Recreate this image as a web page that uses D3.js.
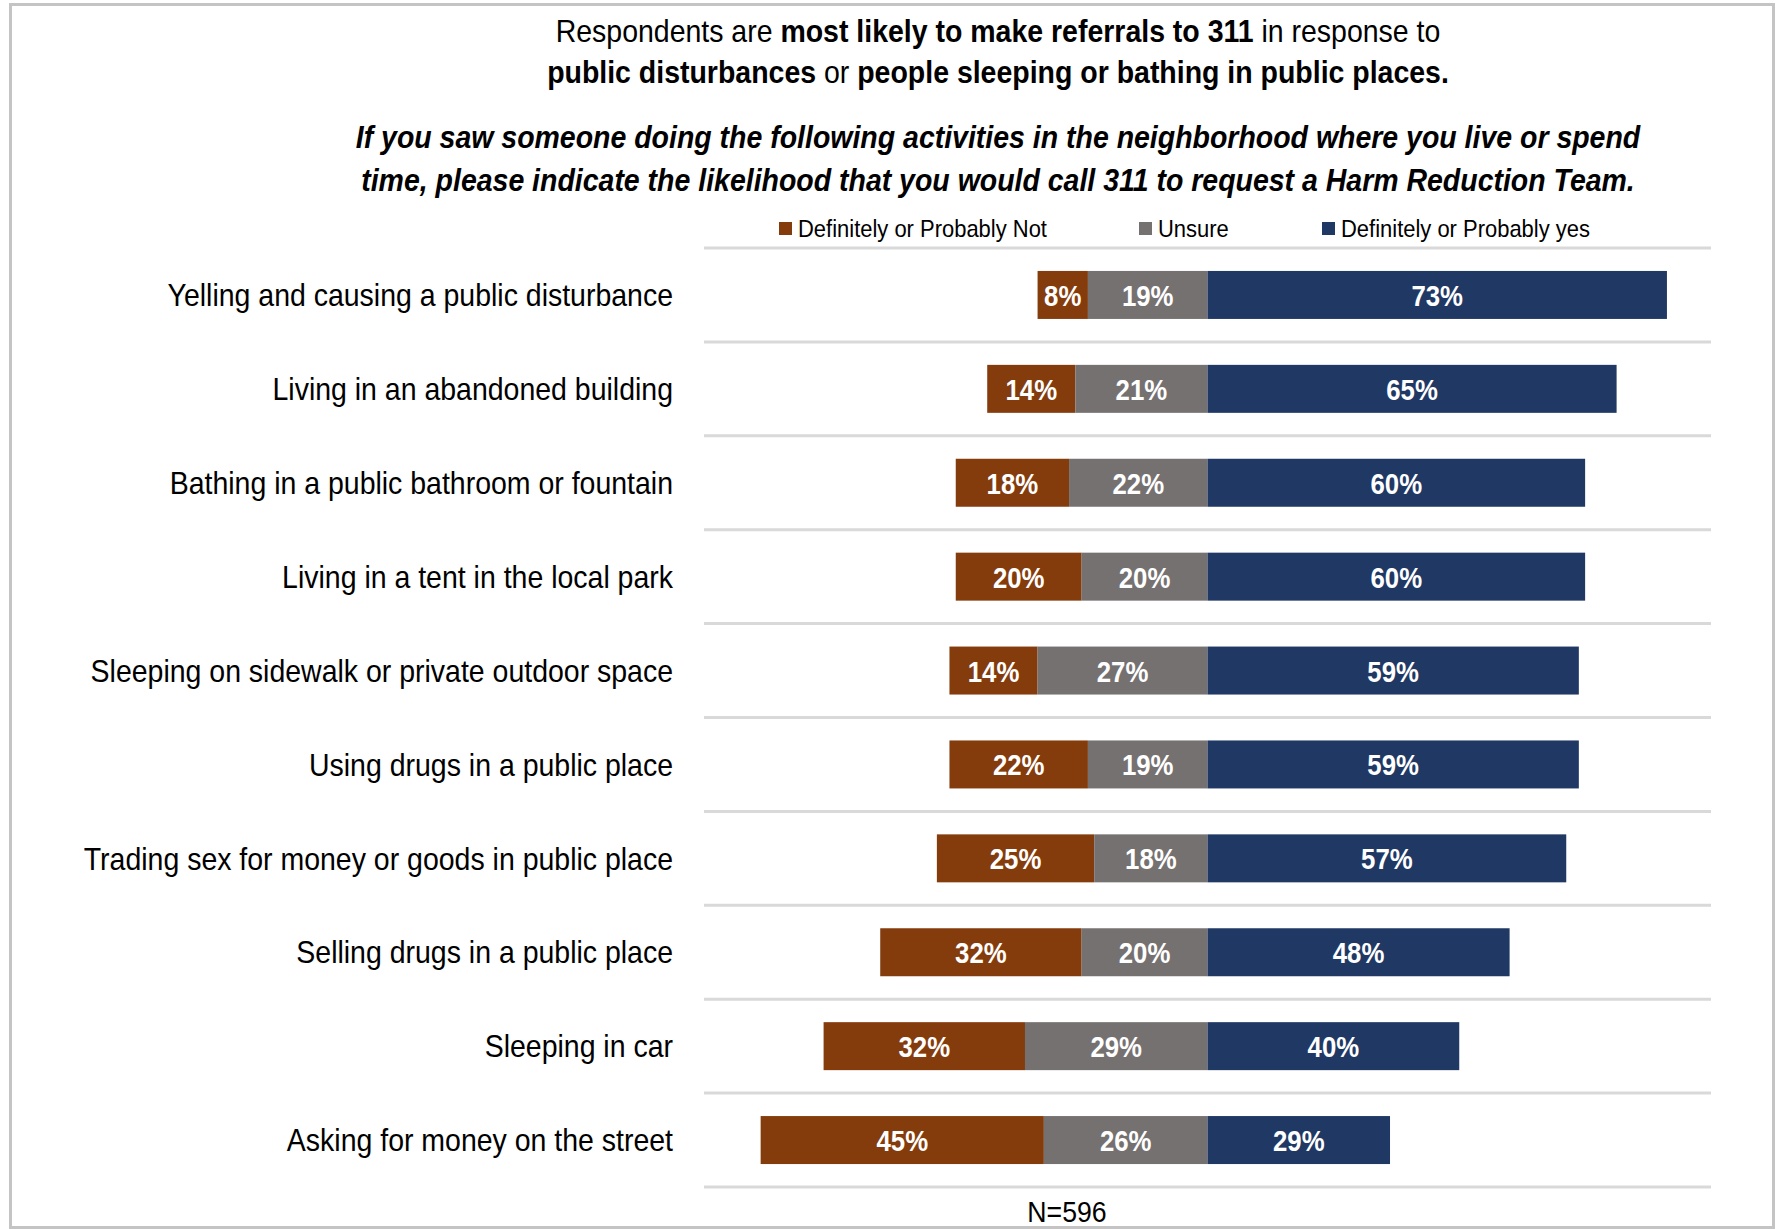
<!DOCTYPE html>
<html>
<head>
<meta charset="utf-8">
<script src="https://cdn.jsdelivr.net/npm/d3@7"></script>
<style>
  html, body { margin: 0; padding: 0; background: #fff; }
  svg { display: block; }
  text { font-family: "Liberation Sans", Arial, sans-serif; }
</style>
</head>
<body>
<svg id="chart" width="1776" height="1229"></svg>
<script>
// Survey activities (top to bottom)
const categories = [
  "Yelling and causing a public disturbance",
  "Living in an abandoned building",
  "Bathing in a public bathroom or fountain",
  "Living in a tent in the local park",
  "Sleeping on sidewalk or private outdoor space",
  "Using drugs in a public place",
  "Trading sex for money or goods in public place",
  "Selling drugs in a public place",
  "Sleeping in car",
  "Asking for money on the street"
];
// Percent of respondents per answer
const notValues    = [8, 14, 18, 20, 14, 22, 25, 32, 32, 45];
const unsureValues = [19, 21, 22, 20, 27, 19, 18, 20, 29, 26];
const yesValues    = [73, 65, 60, 60, 59, 59, 57, 48, 40, 29];

const seriesNames = ["Definitely or Probably Not", "Unsure", "Definitely or Probably yes"];
const seriesColors = ["#843C0C", "#767171", "#203864"];

// Narrow type: regular sans squeezed horizontally
const NARROW = 0.89;
const at = (x, y, k = NARROW) => `translate(${x},${y}) scale(${k},1)`;

const svg = d3.select("#chart");

// Outer frame
svg.append("rect")
  .attr("x", 10.5).attr("y", 4.5)
  .attr("width", 1763).attr("height", 1223)
  .attr("fill", "none").attr("stroke", "#c4c4c4").attr("stroke-width", 3);

// Headline with mixed weights
const head = svg.append("g").attr("font-size", 32).attr("fill", "#000").attr("text-anchor", "middle");
const l1 = head.append("text").attr("transform", at(998, 42));
l1.append("tspan").text("Respondents are ");
l1.append("tspan").attr("font-weight", "bold").text("most likely to make referrals to 311");
l1.append("tspan").text(" in response to");
const l2 = head.append("text").attr("transform", at(998, 83));
l2.append("tspan").attr("font-weight", "bold").text("public disturbances");
l2.append("tspan").text(" or ");
l2.append("tspan").attr("font-weight", "bold").text("people sleeping or bathing in public places.");

const q = svg.append("g").attr("font-size", 32).attr("font-weight", "bold")
  .attr("font-style", "italic").attr("text-anchor", "middle");
q.append("text").attr("transform", at(998, 148))
  .text("If you saw someone doing the following activities in the neighborhood where you live or spend");
q.append("text").attr("transform", at(998, 191))
  .text("time, please indicate the likelihood that you would call 311 to request a Harm Reduction Team.");

// Scales: diverging around zero ("no" and "unsure" to the left, "yes" to the right)
const x = d3.scaleLinear().domain([-80, 80]).range([704, 1711]);
const y = d3.scaleBand().domain(categories).range([248, 1187])
  .paddingInner(0.489).paddingOuter(0.2445);

// Legend
const legendX = [779, 1139, 1322];
const legend = svg.append("g").attr("font-size", 24);
seriesNames.forEach((name, i) => {
  legend.append("rect").attr("x", legendX[i]).attr("y", 222)
    .attr("width", 13).attr("height", 13).attr("fill", seriesColors[i]);
  legend.append("text").attr("transform", at(legendX[i] + 19, 237, 0.915)).text(name);
});

// Row separators
const step = y.step();
svg.append("g").selectAll("line")
  .data(d3.range(categories.length + 1))
  .join("line")
  .attr("x1", 704).attr("x2", 1711)
  .attr("y1", i => y.range()[0] + i * step)
  .attr("y2", i => y.range()[0] + i * step)
  .attr("stroke", "#d9d9d9").attr("stroke-width", 3);

// Build segments
const rows = categories.map((c, i) => ({
  cat: c,
  segs: [
    { v: notValues[i], x0: -(notValues[i] + unsureValues[i]), x1: -unsureValues[i], s: 0 },
    { v: unsureValues[i], x0: -unsureValues[i], x1: 0, s: 1 },
    { v: yesValues[i], x0: 0, x1: yesValues[i], s: 2 }
  ]
}));

const rowG = svg.append("g").selectAll("g").data(rows).join("g")
  .attr("transform", d => `translate(0,${y(d.cat)})`);

rowG.selectAll("rect").data(d => d.segs).join("rect")
  .attr("x", d => x(d.x0))
  .attr("width", d => x(d.x1) - x(d.x0))
  .attr("y", 0).attr("height", y.bandwidth())
  .attr("fill", d => seriesColors[d.s]);

rowG.selectAll("text").data(d => d.segs).join("text")
  .attr("transform", d => at((x(d.x0) + x(d.x1)) / 2, y.bandwidth() / 2 + 11, 0.86))
  .attr("text-anchor", "middle")
  .attr("font-size", 30).attr("font-weight", "bold").attr("fill", "#fff")
  .text(d => d.v + "%");

// Category labels
const yAxis = d3.axisLeft(y).tickSize(0).tickPadding(0);
const ax = svg.append("g").attr("transform", "translate(673,0)").call(yAxis);
ax.select(".domain").remove();
ax.selectAll("text").attr("font-size", 32).attr("fill", "#000")
  .attr("font-family", null).attr("dy", "0.35em")
  .attr("transform", `scale(${NARROW},1)`);

// Sample size
svg.append("text").attr("transform", at(1067, 1222, 0.92)).attr("text-anchor", "middle")
  .attr("font-size", 29).text("N=596");
</script>
</body>
</html>
